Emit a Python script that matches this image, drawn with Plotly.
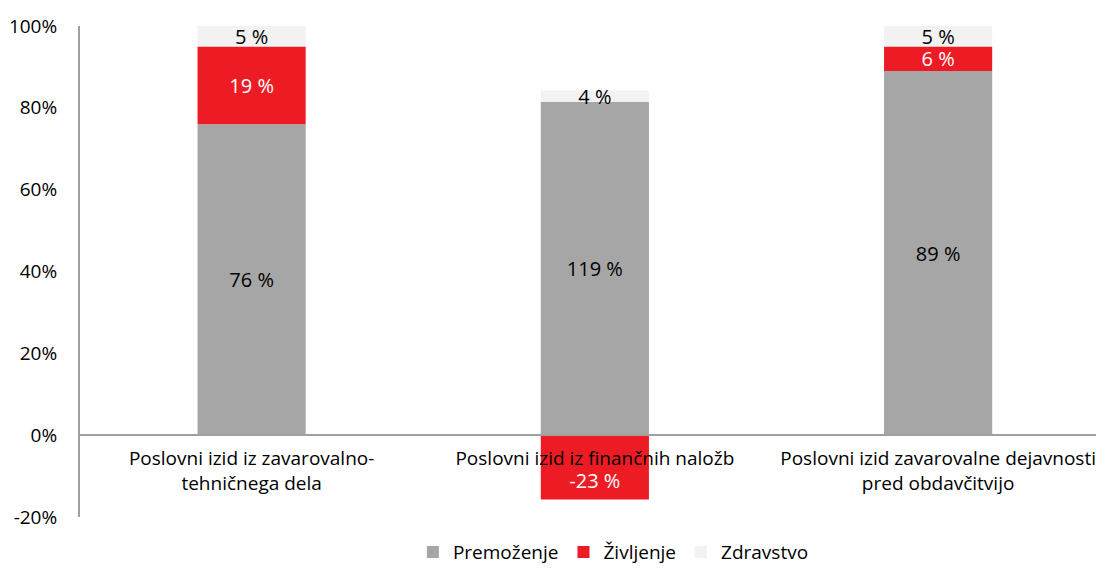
import plotly.graph_objects as go

CATEGORIES = [
    "Poslovni izid iz zavarovalno-<br>tehničnega dela",
    "Poslovni izid iz finančnih naložb",
    "Poslovni izid zavarovalne dejavnosti<br>pred obdavčitvijo",
]
PREMOZENJE = [76, 119, 89]
ZIVLJENJE = [19, -23, 6]
ZDRAVSTVO = [5, 4, 5]

SERIES = [
    ("Premoženje", PREMOZENJE, "#A6A6A6", "#000000"),
    ("Življenje", ZIVLJENJE, "#ED1C24", "#FFFFFF"),
    ("Zdravstvo", ZDRAVSTVO, "#F2F2F2", "#000000"),
]

FONT = "Open Sans"
SIZE = 20

# 100 % stacked: each segment is its share of the sum of absolute values
totals = [sum(abs(s[1][i]) for s in SERIES) for i in range(len(CATEGORIES))]

fig = go.Figure()
for name, vals, color, tcolor in SERIES:
    shares = [v / t * 100 for v, t in zip(vals, totals)]
    # negative labels sit low in their segment, below the category label
    labels = [("\u00a0<br>" + f"{v} %" if v < 0 else f"{v} %") for v in vals]
    fig.add_trace(go.Bar(
        x=CATEGORIES, y=shares, name=name,
        marker=dict(color=color, line=dict(width=0)),
        text=labels,
        textposition="inside", insidetextanchor="middle", textangle=0,
        textfont=dict(color=tcolor, size=SIZE, family=FONT),
        cliponaxis=False,
    ))

# page body adds an 8px margin all round, so keep the figure inside the window
fig.update_layout(
    barmode="relative",
    bargap=0.685,
    width=1088, height=561,
    margin=dict(l=72, r=0, t=18, b=52),
    plot_bgcolor="white", paper_bgcolor="white",
    font=dict(family=FONT, size=SIZE, color="#000000"),
    uniformtext=dict(minsize=SIZE, mode="show"),
    showlegend=True,
    legend=dict(orientation="h", x=0.525, xanchor="center",
                yref="container", y=0.03, yanchor="middle",
                font=dict(size=19), itemwidth=30, traceorder="normal"),
    yaxis=dict(range=[-20, 100], tickvals=[-20, 0, 20, 40, 60, 80, 100],
               ticktext=["-20%", "0%", "20%", "40%", "60%", "80%", "100%"],
               tickfont=dict(size=19),
               showgrid=False, zeroline=False, showline=True, linecolor="#A0A0A0",
               linewidth=2, ticks="", ticklabelstandoff=17, automargin=False),
    xaxis=dict(anchor="free", position=1 / 6, showline=True, linecolor="#A0A0A0",
               linewidth=2, ticks="", showgrid=False, range=[-0.5, 2.46],
               tickfont=dict(size=19), ticklabelstandoff=6, automargin=False),
)

fig.write_html("out.html")
